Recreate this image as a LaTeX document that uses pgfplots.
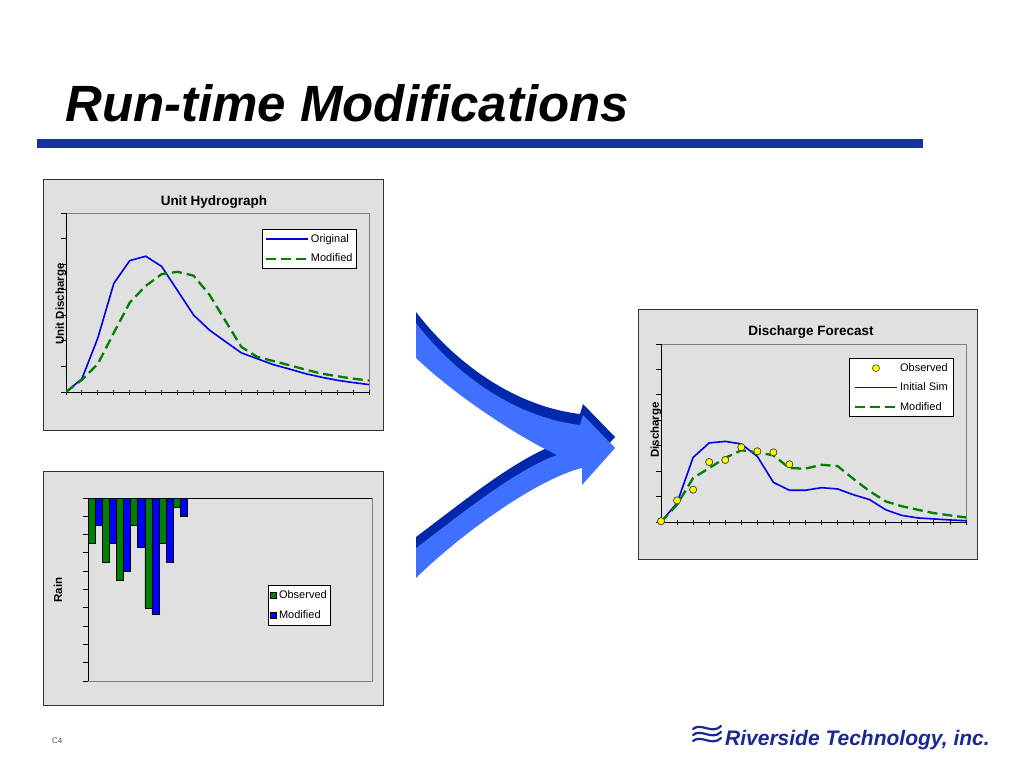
\documentclass[border=0pt]{standalone}
\usepackage{pgfplots}
\pgfplotsset{compat=1.18}
\usepackage{fontspec}
\setmainfont{Liberation Sans}

\definecolor{chartbg}{RGB}{224,224,224}
\definecolor{plotedge}{RGB}{128,128,128}
\definecolor{serblue}{RGB}{0,0,230}
\definecolor{sergreen}{RGB}{0,128,0}
\definecolor{obsyellow}{RGB}{255,255,0}
\definecolor{barblue}{RGB}{0,0,255}
\definecolor{bargreen}{RGB}{0,128,0}
\definecolor{ribbon}{RGB}{22,52,160}
\definecolor{arrowlight}{RGB}{64,112,255}
\definecolor{arrowdark}{RGB}{0,40,170}
\definecolor{logoblue}{RGB}{24,40,150}

\pgfplotsset{
  excel/.style={
    scale only axis,
    anchor=south west,
    enlargelimits=false,
    axis lines=left,
    axis line style={black, line width=0.9pt, -},
    axis background/.style={fill=chartbg, draw=plotedge, line width=0.8pt},
    xticklabel=\empty, yticklabel=\empty,
    major tick length=5pt,
    tick style={black, line width=0.9pt},
    legend style={draw=black, fill=white, line width=0.7pt,
      font=\fontsize{11}{13}\selectfont,
      inner xsep=2pt, inner ysep=3pt, row sep=6pt,
      cells={anchor=west},
      /tikz/every even column/.append style={column sep=3pt}},
    legend image code/.code={
      \draw[mark repeat=2, mark phase=2, ##1]
        plot coordinates {(0pt,0pt) (21pt,0pt) (42pt,0pt)};},
  },
  barlegend/.style={legend image code/.code={\draw[##1] (0pt,-3pt) rectangle (6pt,3pt);}},
  simline/.style={serblue, line width=1.6pt},
  modline/.style={sergreen, line width=2.3pt, dash pattern=on 10pt off 5pt},
  obsmark/.style={only marks, mark=*, mark size=3.5pt,
    draw=black!75, fill=obsyellow, line width=0.6pt},
}

\begin{document}
\begin{tikzpicture}

\begin{scope}[x=1pt, y=-1pt]
  \path[use as bounding box, fill=white] (0,0) rectangle (1024,768);

  % slide title and ribbon
  \node[anchor=base west, inner sep=0pt, font=\fontsize{51}{60}\selectfont\bfseries\itshape]
    at (65,121) {Run-time Modifications};
  \fill[ribbon] (37,139) rectangle (923,148);

  % chart frames
  \filldraw[fill=chartbg, draw=black!80, line width=0.8pt] (43,179) rectangle (383,430);
  \filldraw[fill=chartbg, draw=black!80, line width=0.8pt] (43,471) rectangle (383,705);
  \filldraw[fill=chartbg, draw=black!80, line width=0.8pt] (638,309) rectangle (977,559);

  % curved arrow
  \def\arrowpath{(416,323) .. controls (460,380) and (520,418) .. (580,425)
    -- (583,415) -- (615,448) -- (582,485) -- (582,468)
    .. controls (540,478) and (465,530) .. (416,578) -- (416,548)
    .. controls (460,515) and (515,470) .. (557,455)
    .. controls (515,435) and (455,395) .. (416,358) -- cycle}
  \fill[arrowdark, yshift=11pt] \arrowpath;
  \fill[arrowlight] \arrowpath;

  % footer
  \node[anchor=base west, inner sep=0pt, text=black!70, font=\fontsize{8}{10}\selectfont]
    at (52,743) {C4};
  \begin{scope}[logoblue, line width=2.2pt, line cap=round]
    \draw (693,729) .. controls (701,722) and (712,735) .. (721,726);
    \draw (693,735) .. controls (701,728) and (712,741) .. (721,732);
    \draw (693,741) .. controls (701,734) and (712,747) .. (721,738);
  \end{scope}
  \node[anchor=base west, inner sep=0pt, text=logoblue,
    font=\fontsize{21}{25}\selectfont\bfseries\itshape]
    at (725,745) {Riverside Technology, inc.};

  % chart titles and axis labels
  \node[font=\fontsize{13.5}{16}\selectfont\bfseries] at (214,202) {Unit Hydrograph};
  \node[font=\fontsize{13.5}{16}\selectfont\bfseries] at (811,332) {Discharge Forecast};
  \node[rotate=90, font=\fontsize{11.5}{14}\selectfont\bfseries] at (61,304) {Unit Discharge};
  \node[rotate=90, font=\fontsize{11.5}{14}\selectfont\bfseries] at (58,590) {Rain};
  \node[rotate=90, font=\fontsize{11.5}{14}\selectfont\bfseries] at (656,430) {Discharge};
\end{scope}

% Unit hydrograph
\begin{axis}[excel, at={(66pt,-392pt)}, width=303pt, height=179pt,
  xmin=0, xmax=19, ymin=0, ymax=7,
  xtick={0,...,19}, ytick={0,...,7},
  xtick align=center, ytick align=outside,
  legend style={at={(0.96,0.91)}, anchor=north east}]
\addplot[simline] coordinates {
  (0,0) (1,0.52) (2,2.12) (3,4.25) (4,5.14) (5,5.31) (6,4.91) (7,3.96)
  (8,3.01) (9,2.42) (10,1.97) (11,1.53) (12,1.30) (13,1.07) (14,0.90)
  (15,0.72) (16,0.58) (17,0.46) (18,0.37) (19,0.29)};
\addplot[modline] coordinates {
  (0,0) (1,0.48) (2,1.10) (3,2.32) (4,3.50) (5,4.15) (6,4.61) (7,4.70)
  (8,4.55) (9,3.80) (10,2.78) (11,1.76) (12,1.37) (13,1.21) (14,1.05)
  (15,0.88) (16,0.72) (17,0.62) (18,0.52) (19,0.45)};
\legend{Original, Modified}
\end{axis}

% Rain
\begin{axis}[excel, at={(88pt,-681pt)}, width=284pt, height=183pt,
  xmin=0, xmax=20, ymin=0, ymax=10, y dir=reverse,
  axis x line*=top,
  xtick=\empty, ytick={0,...,10}, ytick align=outside,
  legend style={at={(0.856,0.525)}, anchor=north east, row sep=7pt}]
\addplot[ybar, bar width=0.5, bar shift=-0.25, fill=bargreen, draw=black, line width=0.6pt,
  barlegend]
  coordinates {(0.5,2.5) (1.5,3.5) (2.5,4.5) (3.5,1.5) (4.5,6.0) (5.5,2.5) (6.5,0.5)};
\addplot[ybar, bar width=0.5, bar shift=0.25, fill=barblue, draw=black, line width=0.6pt,
  barlegend]
  coordinates {(0.5,1.5) (1.5,2.5) (2.5,4.0) (3.5,2.7) (4.5,6.35) (5.5,3.5) (6.5,1.0)};
\legend{Observed, Modified}
\end{axis}

% Discharge forecast
\begin{axis}[excel, at={(661pt,-522pt)}, width=305pt, height=178pt,
  xmin=0, xmax=19, ymin=0, ymax=7,
  xtick={0,...,19}, ytick={0,...,7},
  xtick align=center, ytick align=outside,
  legend style={at={(0.961,0.921)}, anchor=north east, inner xsep=4pt}]
\addplot[obsmark] coordinates {
  (0,0.03) (1,0.85) (2,1.27) (3,2.36) (4,2.44) (5,2.94) (6,2.78) (7,2.74) (8,2.27)};
\addlegendentry{Observed}
\addplot[color=serblue, line width=1.6pt, mark=none] coordinates {
  (0,0) (1,0.75) (2,2.54) (3,3.11) (4,3.17) (5,3.07) (6,2.58) (7,1.56)
  (8,1.25) (9,1.25) (10,1.35) (11,1.30) (12,1.07) (13,0.88) (14,0.48)
  (15,0.26) (16,0.16) (17,0.12) (18,0.08) (19,0.05)};
\addlegendentry{Initial Sim}
\addplot[color=sergreen, line width=2.3pt, dash pattern=on 10pt off 5pt, mark=none] coordinates {
  (0,0) (1,0.68) (2,1.73) (3,2.12) (4,2.52) (5,2.82) (6,2.74) (7,2.62)
  (8,2.12) (9,2.10) (10,2.25) (11,2.20) (12,1.69) (13,1.21) (14,0.81)
  (15,0.62) (16,0.48) (17,0.35) (18,0.26) (19,0.18)};
\addlegendentry{Modified}
\addplot[obsmark, forget plot] coordinates {
  (0,0.03) (1,0.85) (2,1.27) (3,2.36) (4,2.44) (5,2.94) (6,2.78) (7,2.74) (8,2.27)};
\end{axis}

\end{tikzpicture}
\end{document}
